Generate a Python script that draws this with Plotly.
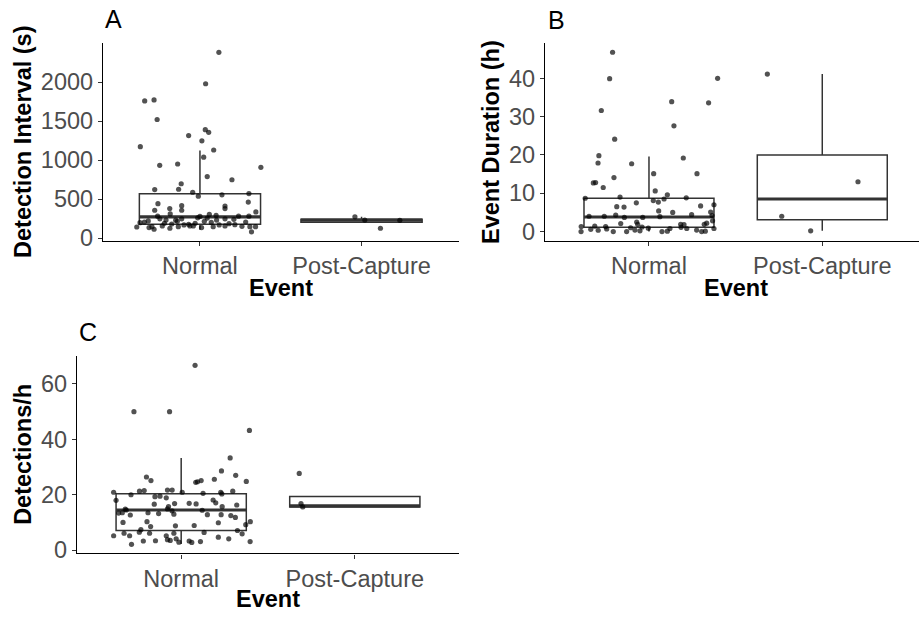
import plotly.graph_objects as go

W, H = 919, 626
FONT = "Liberation Sans, Arial, sans-serif"

categories = ["Normal", "Post-Capture"]
cat_pos = [1, 2]

# ---------- A: detection interval (s) ----------
a_normal_x = [1.117, 1.035, 0.658, 0.716, 0.735, 0.631, 0.930, 1.012, 1.033, 1.054,
              1.085, 1.023, 0.751, 0.862, 1.377, 1.045, 1.198, 0.884, 0.868, 0.720,
              0.955, 0.990, 1.136, 1.303, 1.299, 0.887, 0.813, 1.155, 1.155, 0.740,
              0.720, 0.887, 1.346,
              0.609, 0.685, 0.716, 0.656, 0.752, 0.738, 0.767, 0.814, 0.790, 0.816,
              0.866, 0.860, 0.901, 0.938, 0.959, 0.986, 1.000, 1.010, 1.027, 1.045,
              1.058, 1.082, 1.103, 1.119, 1.155, 1.155, 1.216, 1.239, 1.283, 1.303,
              1.309, 1.344, 1.319, 0.629, 0.703, 0.825, 0.887, 0.930, 0.970, 1.070,
              1.180, 0.780, 1.260, 0.680, 1.100, 0.850, 1.210]
a_normal_y = [2383, 1980, 1760, 1773, 1521, 1173, 1315, 1248, 1391, 1357,
              1130, 1038, 933, 950, 908, 789, 748, 697, 626, 622,
              588, 537, 555, 571, 462, 416, 378, 411, 378, 441,
              357, 357, 335,
              142, 134, 113, 206, 247, 281, 155, 126, 231, 310,
              146, 214, 168, 155, 155, 260, 277, 134, 214, 256,
              303, 146, 231, 168, 155, 247, 172, 281, 206, 281,
              146, 146, 80, 197, 146, 180, 247, 176, 190, 200,
              185, 190, 150, 220, 290, 230, 240]
a_post_x = [1.959, 2.020, 2.117, 2.237]
a_post_y = [272, 231, 126, 227]
a_box = dict(q1=[176, 202], median=[272, 229], q3=[567, 241],
             lowerfence=[105, 202], upperfence=[1122, 272])

# ---------- B: event duration (h) ----------
b_normal_x = [0.790, 0.773, 1.396, 0.725, 1.131, 1.344, 1.144, 0.802, 0.711, 0.706,
              0.900, 1.198, 1.027, 1.277, 0.679, 0.692, 0.798, 0.736, 1.036, 1.106,
              0.833, 1.215, 0.632, 1.375, 1.298, 0.814, 0.856, 0.927, 1.054, 1.087,
              1.025, 1.137, 1.056, 0.742, 0.654, 0.808, 0.858, 0.964, 1.063, 1.246,
              1.364, 1.356, 0.837, 0.929, 0.935, 1.183, 1.202, 1.319, 1.333, 0.609,
              0.687, 0.750, 0.664, 0.707, 0.756, 0.794, 0.608, 0.871, 0.894, 0.919,
              0.948, 0.960, 0.996, 1.075, 1.106, 1.121, 1.185, 1.218, 1.275, 1.304,
              1.325, 1.375, 1.367]
b_normal_y = [46.8, 39.9, 40.0, 31.6, 33.9, 33.6, 27.6, 24.1, 19.8, 17.9,
              17.7, 19.2, 15.1, 15.1, 12.7, 12.8, 14.1, 11.5, 10.6, 9.6,
              9.0, 8.8, 8.7, 7.0, 6.7, 6.5, 6.4, 7.5, 7.7, 8.5,
              8.1, 5.0, 5.4, 4.0, 4.0, 4.3, 3.7, 3.7, 3.9, 4.4,
              4.2, 5.1, 2.1, 2.5, 1.9, 1.9, 1.8, 1.9, 2.2, 1.3,
              1.4, 1.3, 0.6, 0.35, 0.7, 0.0, 0.0, 0.0, 1.0, 0.4,
              0.2, 1.2, 0.9, 0.0, 0.1, 0.8, 1.1, 0.8, 0.4, 0.0,
              0.1, 0.8, 2.8]
b_post_x = [1.683, 2.206, 1.766, 1.933]
b_post_y = [41.1, 13.0, 4.0, 0.2]
b_box = dict(q1=[1.1, 3.1], median=[3.8, 8.5], q3=[8.7, 20.0],
             lowerfence=[0.0, 0.2], upperfence=[19.6, 41.1])

# ---------- C: detections per hour ----------
c_normal_x = [1.080, 0.728, 0.933, 1.393, 1.282, 1.232, 1.314, 0.800, 0.826, 1.084,
              1.094, 1.115, 1.191, 1.375, 0.611, 0.625, 0.711, 0.760, 0.787, 0.921,
              0.948, 1.006, 1.126, 1.228, 1.234, 1.297, 0.849, 0.878, 0.914, 1.184,
              1.199, 1.046, 1.086, 0.962, 0.845, 0.927, 0.921, 1.236, 1.320, 0.678,
              0.684, 0.640, 0.661, 0.707, 0.809, 0.870, 0.947, 0.958, 1.121, 1.151,
              1.230, 1.286, 1.312, 0.665, 0.803, 0.824, 0.967, 1.075, 1.214, 1.372,
              1.398, 1.324, 1.351, 0.611, 0.671, 0.703, 0.714, 0.759, 0.768, 0.782,
              0.818, 0.852, 0.914, 0.921, 0.937, 0.958, 0.971, 0.987, 1.046, 1.061,
              1.111, 1.132, 1.214, 1.274, 1.397]
c_normal_y = [66.7, 50.0, 50.0, 43.2, 33.3, 28.6, 27.0, 26.4, 25.1, 24.5,
              24.7, 25.1, 25.6, 24.8, 20.9, 18.0, 20.0, 21.3, 21.5, 21.7,
              21.7, 20.9, 20.5, 20.9, 20.3, 21.3, 19.3, 19.5, 18.9, 18.1,
              17.1, 16.9, 16.7, 16.8, 16.6, 15.7, 14.9, 15.7, 16.3, 14.8,
              14.5, 13.4, 13.5, 12.7, 13.5, 13.2, 14.2, 13.0, 14.4, 12.8,
              12.8, 12.5, 11.8, 10.0, 10.3, 8.5, 8.8, 8.9, 9.9, 9.2,
              10.3, 7.1, 5.9, 5.2, 6.1, 5.2, 2.1, 6.5, 7.4, 3.3,
              6.1, 3.4, 5.2, 3.8, 3.5, 6.1, 4.1, 2.9, 3.3, 2.8,
              3.1, 6.4, 4.7, 4.1, 3.1]
c_post_x = [1.680, 1.690, 1.700]
c_post_y = [27.7, 16.8, 15.6]
c_box = dict(q1=[7.1, 15.6], median=[14.5, 16.0], q3=[20.4, 19.4],
             lowerfence=[2.2, 15.6], upperfence=[33.3, 19.4])

BOX_W = 0.75
LINE_C = "#333333"
PT_C = "rgba(0,0,0,0.68)"


def px_x(x):
    return x / W


def px_y(y):
    return 1 - y / H


fig = go.Figure()

panels = [
    dict(key="", dom_x=(103, 458.5), dom_y=(44, 245), xr=[0.4, 2.6], yr=[-34, 2500],
         ticks=[0, 500, 1000, 1500, 2000], box=a_box,
         pts=[(a_normal_x, a_normal_y), (a_post_x, a_post_y)],
         tag="A", tag_xy=(103, 19), ytitle="Detection Interval (s)", ytitle_xy=(23, 144.5),
         xtitle_xy=(280.5, 293)),
    dict(key="2", dom_x=(545, 919), dom_y=(44, 245), xr=[0.4, 0.4 + (919 - 545) / 173.3],
         yr=[-2.38, 49.15], ticks=[0, 10, 20, 30, 40], box=b_box,
         pts=[(b_normal_x, b_normal_y), (b_post_x, b_post_y)],
         tag="B", tag_xy=(546, 20), ytitle="Event Duration (h)", ytitle_xy=(491, 144.5),
         xtitle_xy=(735.5, 293)),
    dict(key="3", dom_x=(77, 459), dom_y=(362.7, 563.3), xr=[0.4, 2.6], yr=[-1.17, 69.96],
         ticks=[0, 20, 40, 60], box=c_box,
         pts=[(c_normal_x, c_normal_y), (c_post_x, c_post_y)],
         tag="C", tag_xy=(77, 338), ytitle="Detections/h", ytitle_xy=(23, 463),
         xtitle_xy=(268, 610)),
]

annotations = []
for p in panels:
    xa = "x" + p["key"]
    ya = "y" + p["key"]
    b = p["box"]
    # boxes (precomputed five-number summaries)
    fig.add_trace(go.Box(
        x=cat_pos, q1=b["q1"], median=b["median"], q3=b["q3"],
        lowerfence=b["lowerfence"], upperfence=b["upperfence"],
        width=BOX_W, whiskerwidth=0, boxpoints=False,
        fillcolor="rgba(255,255,255,0)", line=dict(color=LINE_C, width=1.5),
        xaxis=xa, yaxis=ya, hoverinfo="skip"))
    # thicker median bars
    for cx, med in zip(cat_pos, b["median"]):
        fig.add_trace(go.Scatter(
            x=[cx - BOX_W / 2, cx + BOX_W / 2], y=[med, med], mode="lines",
            line=dict(color=LINE_C, width=3.2), xaxis=xa, yaxis=ya, hoverinfo="skip"))
    # jittered observations
    for xs, ys in p["pts"]:
        fig.add_trace(go.Scatter(
            x=xs, y=ys, mode="markers",
            marker=dict(size=5.2, color=PT_C, line=dict(width=0)),
            xaxis=xa, yaxis=ya))

    axis_common = dict(showline=True, linecolor="#000000", linewidth=1.3,
                       ticks="outside", ticklen=4, tickwidth=1.2, tickcolor=LINE_C,
                       showgrid=False, zeroline=False,
                       tickfont=dict(family=FONT, size=23.5, color="#4D4D4D"))
    fig.update_layout(**{
        "xaxis" + p["key"]: dict(domain=[px_x(p["dom_x"][0]), px_x(p["dom_x"][1])],
                                 range=p["xr"], anchor=ya, tickvals=cat_pos,
                                 ticktext=categories, **axis_common),
        "yaxis" + p["key"]: dict(domain=[px_y(p["dom_y"][1]), px_y(p["dom_y"][0])],
                                 range=p["yr"], anchor=xa, tickvals=p["ticks"],
                                 **axis_common),
    })

    annotations.append(dict(text=p["tag"], x=px_x(p["tag_xy"][0]), y=px_y(p["tag_xy"][1]),
                            xref="paper", yref="paper", xanchor="left", yanchor="middle",
                            showarrow=False, font=dict(family=FONT, size=25, color="#000")))
    annotations.append(dict(text="<b>" + p["ytitle"] + "</b>", textangle=-90,
                            x=px_x(p["ytitle_xy"][0]), y=px_y(p["ytitle_xy"][1]),
                            xref="paper", yref="paper", xanchor="center", yanchor="middle",
                            showarrow=False, font=dict(family=FONT, size=23.5, color="#000")))
    annotations.append(dict(text="<b>Event</b>", x=px_x(p["xtitle_xy"][0]),
                            y=px_y(p["xtitle_xy"][1]), xref="paper", yref="paper",
                            xanchor="center", yanchor="middle", showarrow=False,
                            font=dict(family=FONT, size=23.5, color="#000")))

fig.update_layout(width=W, height=H, margin=dict(l=0, r=0, t=0, b=0),
                  paper_bgcolor="white", plot_bgcolor="white", showlegend=False,
                  annotations=annotations)

fig.write_html("out.html")
